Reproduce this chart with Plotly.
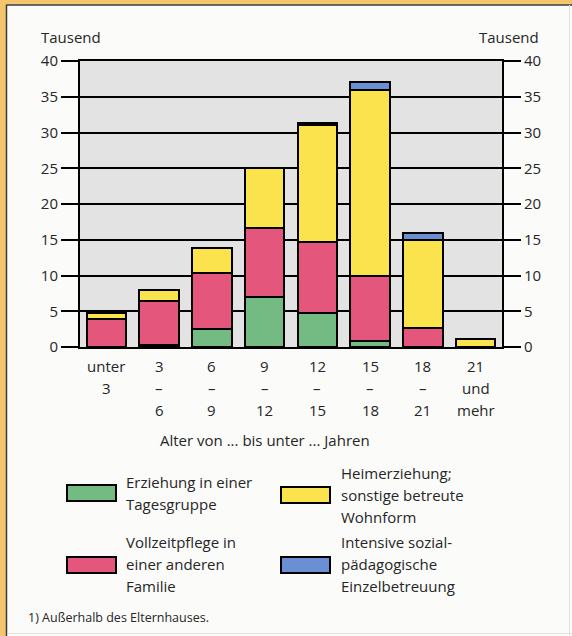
import plotly.graph_objects as go

# ---- data ----
categories = ["unter 3", "3-6", "6-9", "9-12", "12-15", "15-18", "18-21", "21 und mehr"]
tick_lines = [["unter", "3", ""], ["3", "–", "6"], ["6", "–", "9"], ["9", "–", "12"],
              ["12", "–", "15"], ["15", "–", "18"], ["18", "–", "21"], ["21", "und", "mehr"]]
tagesgruppe = [0, 0.3, 2.5, 7.0, 4.7, 0.9, 0, 0]
vollzeitpflege = [3.9, 6.2, 7.8, 9.7, 10.0, 9.1, 2.6, 0]
heimerziehung = [0.8, 1.5, 3.6, 8.4, 16.3, 25.9, 12.3, 1.1]
einzelbetreuung = [0, 0, 0, 0, 0.3, 1.2, 1.1, 0]
y_ticks = [0, 5, 10, 15, 20, 25, 30, 35, 40]

series = [
    ("Erziehung in einer Tagesgruppe", tagesgruppe, "#73bb82"),
    ("Vollzeitpflege in einer anderen Familie", vollzeitpflege, "#e5567c"),
    ("Heimerziehung; sonstige betreute Wohnform", heimerziehung, "#fae34c"),
    ("Intensive sozialpädagogische Einzelbetreuung", einzelbetreuung, "#6a8fd2"),
]
legend_lines = {
    "Erziehung in einer Tagesgruppe": ["Erziehung in einer", "Tagesgruppe"],
    "Vollzeitpflege in einer anderen Familie": ["Vollzeitpflege in", "einer anderen", "Familie"],
    "Heimerziehung; sonstige betreute Wohnform": ["Heimerziehung;", "sonstige betreute", "Wohnform"],
    "Intensive sozialpädagogische Einzelbetreuung": ["Intensive sozial-", "pädagogische", "Einzelbetreuung"],
}

W, H = 572, 636
L, R, T, B = 80, 70, 61, 289
PW, PH = W - L - R, H - T - B
FONT = "'Open Sans', sans-serif"
TXT = "#262626"
FS = 15


def px(x):
    return (x - L) / PW


def py(y):
    return 1 - (y - T) / PH


fig = go.Figure()
for name, vals, col in series:
    fig.add_trace(go.Bar(
        x=categories, y=vals, name=name, width=0.75,
        marker=dict(color=col, line=dict(color="black", width=2)),
        showlegend=False,
    ))
# invisible trace to activate right axis
fig.add_trace(go.Scatter(x=[categories[0]], y=[0], yaxis="y2", mode="markers",
                         marker=dict(opacity=0), showlegend=False, hoverinfo="skip"))

axis_common = dict(range=[0, 40], tickvals=y_ticks, ticks="outside", ticklen=17,
                   tickwidth=2, tickcolor="black", showline=True, linecolor="black",
                   linewidth=2, tickfont=dict(family=FONT, size=15, color=TXT), fixedrange=True,
                   automargin=False)

fig.update_layout(
    width=W, height=H,
    margin=dict(l=L, r=R, t=T, b=B),
    barmode="stack", bargap=0.25,
    paper_bgcolor="#fbfbf9", plot_bgcolor="#e3e3e3",
    font=dict(family=FONT, size=FS, color=TXT),
    xaxis=dict(type="category", showticklabels=False, ticks="", showgrid=False,
               showline=True, linecolor="black", linewidth=2, mirror=True,
               range=[-0.5, len(categories) - 0.5], fixedrange=True),
    yaxis=dict(showgrid=True, gridcolor="black", gridwidth=2, zeroline=False, **axis_common),
    yaxis2=dict(overlaying="y", side="right", showgrid=False, zeroline=False, **axis_common),
)

ann = []
# multi-line category labels
line_y = [366, 388, 410]
for cat, lines in zip(categories, tick_lines):
    for ln, yy in zip(lines, line_y):
        if ln:
            ann.append(dict(x=cat, xref="x", y=py(yy), yref="paper", text=ln, showarrow=False,
                            font=dict(size=FS), xanchor="center", yanchor="middle"))
ann.append(dict(x=px(265), y=py(440), xref="paper", yref="paper", showarrow=False,
                text="Alter von ... bis unter ... Jahren", font=dict(size=FS),
                xanchor="center", yanchor="middle"))
ann.append(dict(x=px(71), y=py(37), xref="paper", yref="paper", showarrow=False,
                text="Tausend", font=dict(size=FS), xanchor="center", yanchor="middle"))
ann.append(dict(x=px(509), y=py(37), xref="paper", yref="paper", showarrow=False,
                text="Tausend", font=dict(size=FS), xanchor="center", yanchor="middle"))
ann.append(dict(x=px(26), y=py(617), xref="paper", yref="paper", showarrow=False,
                text="1) Außerhalb des Elternhauses.", font=dict(size=12.5),
                xanchor="left", yanchor="middle"))

shapes = []
# legend: (swatch x0, swatch yc, text x, text first-line y)
legend_pos = {
    "Erziehung in einer Tagesgruppe": (67, 493, 124, 482),
    "Heimerziehung; sonstige betreute Wohnform": (281, 495, 339, 473),
    "Vollzeitpflege in einer anderen Familie": (67, 565, 124, 542),
    "Intensive sozialpädagogische Einzelbetreuung": (281, 565, 339, 542),
}
for name, vals, col in series:
    sx, sy, tx, ty = legend_pos[name]
    shapes.append(dict(type="rect", xref="paper", yref="paper", x0=px(sx), x1=px(sx + 49),
                       y0=py(sy - 8), y1=py(sy + 8), fillcolor=col,
                       line=dict(color="black", width=2)))
    for i, ln in enumerate(legend_lines[name]):
        ann.append(dict(x=px(tx), y=py(ty + 22 * i), xref="paper", yref="paper", text=ln,
                        showarrow=False, font=dict(size=FS), xanchor="left", yanchor="middle"))

# frame
shapes.append(dict(type="rect", xref="paper", yref="paper", x0=px(0), x1=px(6), y0=py(H), y1=py(0),
                   fillcolor="#f4c56c", line=dict(width=0), layer="below"))
shapes.append(dict(type="rect", xref="paper", yref="paper", x0=px(0), x1=px(W), y0=py(4.5), y1=py(0),
                   fillcolor="#f4c56c", line=dict(width=0), layer="below"))
shapes.append(dict(type="line", xref="paper", yref="paper", x0=px(6.5), x1=px(6.5), y0=py(H), y1=py(4.5),
                   line=dict(color="#3a3a3a", width=1.5)))
shapes.append(dict(type="line", xref="paper", yref="paper", x0=px(6.5), x1=px(W), y0=py(5), y1=py(5),
                   line=dict(color="#3a3a3a", width=1.5)))
shapes.append(dict(type="line", xref="paper", yref="paper", x0=px(569.5), x1=px(569.5), y0=py(H), y1=py(5),
                   line=dict(color="#e2e2e2", width=1)))
shapes.append(dict(type="line", xref="paper", yref="paper", x0=px(7), x1=px(W), y0=py(633.5), y1=py(633.5),
                   line=dict(color="#e2e2e2", width=1)))

fig.update_layout(annotations=ann, shapes=shapes)
fig.write_html("out.html", config={"displayModeBar": False},
               post_script="document.body.style.margin='0';document.body.style.overflow='hidden';")
